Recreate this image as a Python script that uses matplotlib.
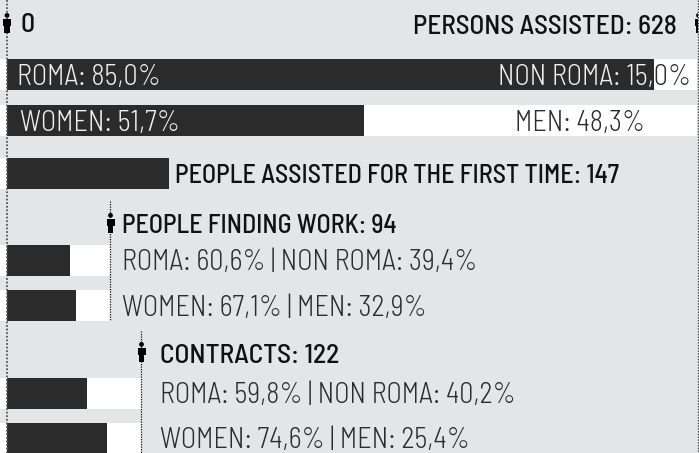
import matplotlib
matplotlib.use("Agg")
import matplotlib.pyplot as plt
from matplotlib.patches import Rectangle, Ellipse
import logging
logging.getLogger("matplotlib.font_manager").setLevel(logging.ERROR)

FONT = ["Barlow Semi Condensed", "Roboto", "DejaVu Sans"]
plt.rcParams["font.family"] = FONT

TOTAL = 628
FIRST_TIME = 147
FINDING_WORK = 94
CONTRACTS = 122

# Dark share of each full-width bar, as drawn in the picture (percent)
TOP_BAR_SHARES = [93.8, 51.7]
TOP_LEFT_LABELS = ["ROMA: 85,0%", "WOMEN: 51,7%"]
TOP_RIGHT_LABELS = ["NON ROMA: 15,0%", "MEN: 48,3%"]

WORK_SHARES = [60.6, 67.1]
WORK_LABELS = ["ROMA: 60,6% | NON ROMA: 39,4%", "WOMEN: 67,1% | MEN: 32,9%"]
CONTRACT_SHARES = [59.8, 74.6]
CONTRACT_LABELS = ["ROMA: 59,8% | NON ROMA: 40,2%", "WOMEN: 74,6% | MEN: 25,4%"]

BG = "#e4e5e7"
DARK = "#2b2b2b"
INK = "#111111"
SOFT = "#2c2c2c"
PALE = "#f0f0f0"
SUB = 20.3

fig = plt.figure(figsize=(6.99, 4.53), dpi=100, facecolor=BG)
ax = fig.add_axes([0, 0, 1, 1])
ax.set_xlim(0, 699)
ax.set_ylim(453, 0)
ax.axis("off")

X0, X1 = 7, 697


def vx(v):
    return X0 + (X1 - X0) * v / TOTAL


def bar(y0, y1, whole_end, dark_end):
    ax.add_patch(Rectangle((0, y0), whole_end, y1 - y0, fc="white", ec="none", zorder=1))
    d = Rectangle((X0 - 0.5, y0), dark_end - X0 + 0.5, y1 - y0, fc=DARK, ec="none", zorder=2)
    ax.add_patch(d)
    return d


def person(x, y0, y1, clip_right=None):
    h = y1 - y0
    parts = [
        Ellipse((x, y0 + h * 0.12), h * 0.24, h * 0.24, fc="black", ec="none", zorder=5),
        Rectangle((x - h * 0.2, y0 + h * 0.28), h * 0.4, h * 0.38, fc="black", ec="none", zorder=5),
        Rectangle((x - h * 0.13, y0 + h * 0.6), h * 0.26, h * 0.4, fc="black", ec="none", zorder=5),
    ]
    for p in parts:
        ax.add_patch(p)
        if clip_right is not None:
            p.set_clip_path(Rectangle((0, 0), clip_right, 453, transform=ax.transData))


def head(x, y, s, size, ha="left"):
    return ax.text(x, y, s, color=INK, fontsize=size, ha=ha, va="baseline", zorder=6, weight=500)


def sub(x, y, s, color=SOFT):
    return ax.text(x, y, s, color=color, fontsize=SUB, ha="left", va="baseline", zorder=6, weight=300)


# Top two full-width bars
d1 = bar(59, 90, X1, X0 + (X1 - X0) * TOP_BAR_SHARES[0] / 100)
sub(17, 85, TOP_LEFT_LABELS[0], PALE)
over = sub(498, 85, TOP_RIGHT_LABELS[0], PALE)
over.set_clip_on(True)
over.set_clip_path(d1)
under = sub(498, 85, TOP_RIGHT_LABELS[0], SOFT)
under.set_zorder(1.5)

bar(105, 136, X1, X0 + (X1 - X0) * TOP_BAR_SHARES[1] / 100)
sub(20, 131, TOP_LEFT_LABELS[1], PALE)
sub(515, 131, TOP_RIGHT_LABELS[1], SOFT)

bar(158, 189, vx(FIRST_TIME), vx(FIRST_TIME))

wend = vx(FINDING_WORK)
for (y0, y1), share in zip([(245, 276), (290, 321)], WORK_SHARES):
    bar(y0, y1, wend, X0 + (wend - X0) * share / 100)
cend = vx(CONTRACTS)
for (y0, y1), share in zip([(378, 409), (423, 453)], CONTRACT_SHARES):
    bar(y0, y1, cend, X0 + (cend - X0) * share / 100)

for x, a, b, c, lw in [
    (7, 0, 453, "#555555", 1.3),
    (698, 0, 453, "#444444", 1.0),
    (wend, 201, 320, "#111111", 0.9),
    (cend, 331, 453, "#111111", 0.9),
]:
    ax.plot([x, x], [a, b], color=c, lw=lw, ls=(0, (1, 1)), zorder=4)

person(7, 13, 33)
person(698.5, 13, 33, clip_right=698)
person(110.5, 213, 233)
person(141.5, 342, 362)

head(20, 32.5, "0", 20)
head(677, 34, f"PERSONS ASSISTED: {TOTAL}", 19.6, ha="right")
head(175, 182.7, f"PEOPLE ASSISTED FOR THE FIRST TIME: {FIRST_TIME}", 18.8)
head(122, 232.7, f"PEOPLE FINDING WORK: {FINDING_WORK}", 18.7)
sub(122, 270, WORK_LABELS[0])
sub(122, 316, WORK_LABELS[1])
head(160, 363, f"CONTRACTS: {CONTRACTS}", 19.8)
sub(160, 402.7, CONTRACT_LABELS[0])
sub(160, 448, CONTRACT_LABELS[1])

fig.savefig("out.png", dpi=100, facecolor=BG)
